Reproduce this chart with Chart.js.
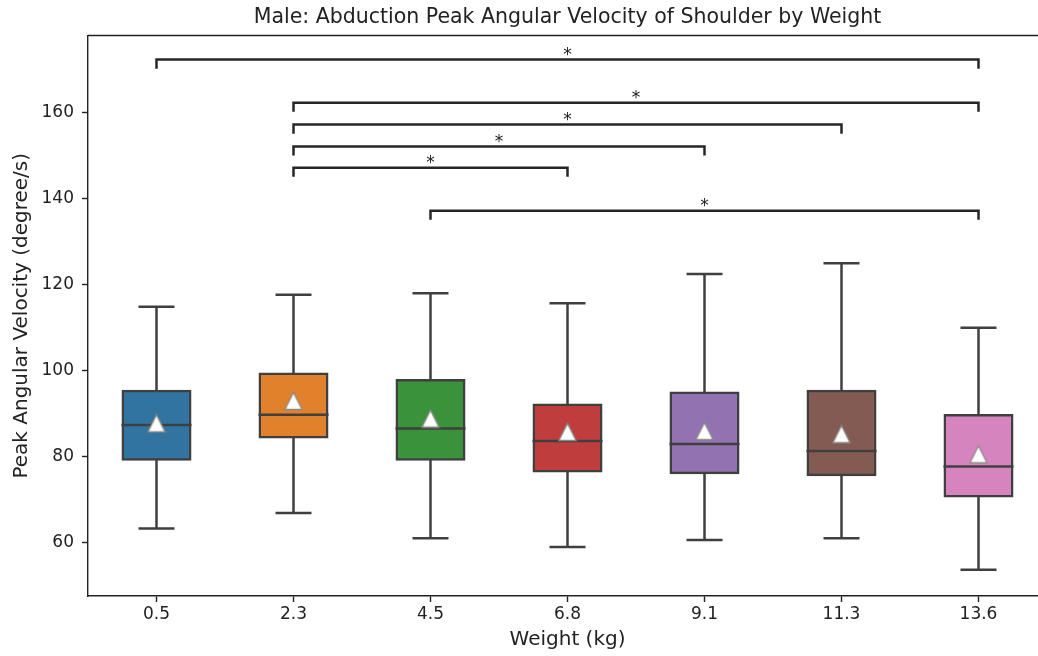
<!DOCTYPE html>
<html>
<head>
<meta charset="utf-8">
<script src="https://cdn.jsdelivr.net/npm/chart.js@4.4.1/dist/chart.umd.min.js"></script>
<style>
  html, body { margin: 0; padding: 0; background: #ffffff; overflow: hidden; }
  #wrap { width: 1047px; height: 656px; }
  canvas { display: block; }
</style>
</head>
<body>
<div id="wrap"><canvas id="chart" width="1047" height="656"></canvas></div>
<script>
// Shoulder abduction peak angular velocity (degree/s), male subjects, per carried weight
const weights     = ['0.5', '2.3', '4.5', '6.8', '9.1', '11.3', '13.6'];
const whiskerLow  = [63.3, 66.9, 61.0, 59.0, 60.6, 61.0, 53.7];
const quartile1   = [79.3, 84.5, 79.3, 76.6, 76.2, 75.7, 70.8];
const medians     = [87.3, 89.7, 86.5, 83.6, 82.9, 81.3, 77.7];
const quartile3   = [95.2, 99.2, 97.7, 92.0, 94.8, 95.2, 89.6];
const whiskerHigh = [114.8, 117.6, 117.9, 115.6, 122.4, 124.9, 109.9];
const means       = [87.7, 92.9, 88.8, 85.7, 85.9, 85.2, 80.5];

const yTickValues = [60, 80, 100, 120, 140, 160];

// Significant pairwise comparisons
const pairFrom  = ['0.5', '2.3', '2.3', '2.3', '2.3', '4.5'];
const pairTo    = ['13.6', '13.6', '11.3', '9.1', '6.8', '13.6'];
const pairLevel = [172.2, 162.2, 157.1, 152.0, 147.1, 137.1];
const pairMark  = ['*', '*', '*', '*', '*', '*'];
const bracketDrop = 2.1;

const chartTitle = 'Male: Abduction Peak Angular Velocity of Shoulder by Weight';

const boxColors = ['#3274a1', '#e1812c', '#3a923a', '#c03d3e', '#9372b2', '#845b53', '#d684bd'];
const lineGray = '#3f3f3f';
const inkColor = '#222222';

Chart.defaults.font.family = "'DejaVu Sans', sans-serif";
Chart.defaults.color = inkColor;

// White "^" marker for the means, as wide as it is tall, centred on the value
function makeTriangle(size) {
  const c = document.createElement('canvas');
  const pad = 1.5;
  c.width = size + 2 * pad;
  c.height = size + 2 * pad;
  const g = c.getContext('2d');
  g.beginPath();
  g.moveTo(pad + size / 2, pad);
  g.lineTo(pad, pad + size);
  g.lineTo(pad + size, pad + size);
  g.closePath();
  g.fillStyle = '#ffffff';
  g.fill();
  g.lineWidth = 1.3;
  g.strokeStyle = '#8a8a8a';
  g.stroke();
  return c;
}
const meanMarker = makeTriangle(17);

const bracketSets = pairFrom.map((from, i) => ({
  type: 'line',
  label: 'bracket ' + from + '-' + pairTo[i],
  data: [
    { x: from, y: pairLevel[i] - bracketDrop },
    { x: from, y: pairLevel[i] },
    { x: pairTo[i], y: pairLevel[i] },
    { x: pairTo[i], y: pairLevel[i] - bracketDrop }
  ],
  borderColor: '#262626',
  borderWidth: 2.5,
  pointRadius: 0,
  fill: false,
  tension: 0,
  order: 6
}));

// Asterisks centred over each bracket
const bracketLabels = {
  id: 'bracketLabels',
  afterDatasetsDraw(chart) {
    const { ctx, scales: { x, y } } = chart;
    ctx.save();
    ctx.font = "17px 'DejaVu Sans'";
    ctx.fillStyle = inkColor;
    ctx.textAlign = 'center';
    ctx.textBaseline = 'alphabetic';
    pairFrom.forEach((from, i) => {
      const px = (x.getPixelForValue(weights.indexOf(from)) + x.getPixelForValue(weights.indexOf(pairTo[i]))) / 2;
      const py = y.getPixelForValue(pairLevel[i]);
      ctx.fillText(pairMark[i], px, py + 0.5);
    });
    ctx.restore();
  }
};

// Top spine and the title, centred over the plotting area
const frameAndTitle = {
  id: 'frameAndTitle',
  beforeDatasetsDraw(chart) {
    const { ctx, chartArea: { left, right, top } } = chart;
    ctx.save();
    ctx.strokeStyle = inkColor;
    ctx.lineWidth = 1.4;
    ctx.beginPath();
    ctx.moveTo(left, top);
    ctx.lineTo(right, top);
    ctx.stroke();
    ctx.font = "20.5px 'DejaVu Sans'";
    ctx.fillStyle = inkColor;
    ctx.textAlign = 'center';
    ctx.textBaseline = 'middle';
    ctx.fillText(chartTitle, (left + right) / 2, 17.6);
    ctx.restore();
  }
};

new Chart(document.getElementById('chart'), {
  type: 'bar',
  data: {
    labels: weights,
    datasets: [
      {
        type: 'line', label: 'mean', data: means, showLine: false,
        pointStyle: meanMarker, pointRadius: 9, order: 0
      },
      {
        type: 'line', label: 'median', data: medians, showLine: false,
        pointStyle: 'line', pointRadius: 35, pointBorderWidth: 2.5,
        pointBorderColor: lineGray, order: 1
      },
      {
        type: 'line', label: 'upper cap', data: whiskerHigh, showLine: false,
        pointStyle: 'line', pointRadius: 18, pointBorderWidth: 2.5,
        pointBorderColor: lineGray, order: 2
      },
      {
        type: 'line', label: 'lower cap', data: whiskerLow, showLine: false,
        pointStyle: 'line', pointRadius: 18, pointBorderWidth: 2.5,
        pointBorderColor: lineGray, order: 2
      },
      {
        type: 'bar', label: 'IQR', data: quartile1.map((v, i) => [v, quartile3[i]]),
        backgroundColor: boxColors, borderColor: lineGray, borderWidth: 2.5,
        borderSkipped: false, barThickness: 67.5, inflateAmount: 1.25,
        grouped: false, order: 3
      },
      {
        type: 'bar', label: 'upper whisker', data: quartile3.map((v, i) => [v, whiskerHigh[i]]),
        backgroundColor: lineGray, borderWidth: 0, barThickness: 2.5,
        inflateAmount: 0, grouped: false, order: 4
      },
      {
        type: 'bar', label: 'lower whisker', data: whiskerLow.map((v, i) => [v, quartile1[i]]),
        backgroundColor: lineGray, borderWidth: 0, barThickness: 2.5,
        inflateAmount: 0, grouped: false, order: 4
      },
      ...bracketSets
    ]
  },
  options: {
    responsive: false,
    animation: false,
    devicePixelRatio: 1,
    layout: { autoPadding: false, padding: { top: 35.5, right: 0, bottom: 0, left: 0 } },
    plugins: {
      legend: { display: false },
      tooltip: { enabled: false },
      title: { display: false }
    },
    scales: {
      x: {
        type: 'category',
        offset: true,
        grid: { offset: false, drawOnChartArea: false, tickLength: 6, tickColor: inkColor, tickWidth: 1.4 },
        border: { color: inkColor, width: 1.4 },
        ticks: { color: inkColor, font: { size: 17 }, padding: 2 },
        title: { display: true, text: 'Weight (kg)', color: inkColor, font: { size: 20 }, padding: { top: 0, bottom: 4 } },
        afterFit(scale) { scale.height = 60; }
      },
      y: {
        type: 'linear',
        position: 'left',
        min: 47.6,
        max: 177.8,
        afterBuildTicks(scale) { scale.ticks = yTickValues.map(v => ({ value: v })); },
        grid: { drawOnChartArea: false, tickLength: 6, tickColor: inkColor, tickWidth: 1.4 },
        border: { color: inkColor, width: 1.4 },
        ticks: { color: inkColor, font: { size: 17 }, padding: 8 },
        title: { display: true, text: 'Peak Angular Velocity (degree/s)', color: inkColor, font: { size: 20 }, padding: { top: 10, bottom: 0 } },
        afterFit(scale) { scale.width = 88; }
      }
    }
  },
  plugins: [frameAndTitle, bracketLabels]
});
</script>
</body>
</html>
